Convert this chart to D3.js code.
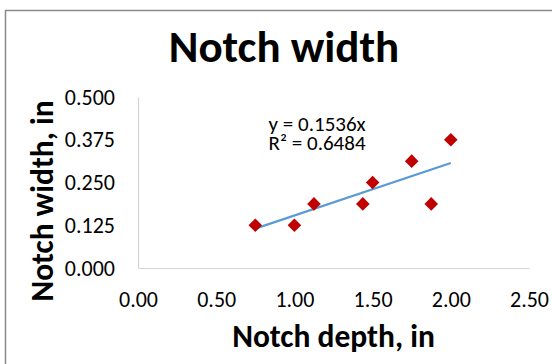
<!DOCTYPE html>
<html>
<head>
<meta charset="utf-8">
<script src="https://cdn.jsdelivr.net/npm/d3@7"></script>
<style>
  body { margin: 0; background: #fff; }
  text { font-family: Calibri, Carlito, Lato, sans-serif; fill: #000; }
</style>
</head>
<body>
<div id="chart"></div>
<script>
// Data
const notchDepth = [0.75, 1.0, 1.125, 1.4375, 1.5, 1.75, 1.875, 2.0];
const notchWidth = [0.125, 0.125, 0.1875, 0.1875, 0.25, 0.3125, 0.1875, 0.375];
const xTicks = [0, 0.5, 1.0, 1.5, 2.0, 2.5];
const yTicks = [0, 0.125, 0.25, 0.375, 0.5];
const trendSlope = 0.1536;
const trendR2 = 0.6484;

// Set up the dimensions of the chart
const W = 552, H = 364;
const margin = { top: 97, right: 23, bottom: 96, left: 138 };
const width = W - margin.left - margin.right;
const height = H - margin.top - margin.bottom;

const root = d3.select("#chart")
    .append("svg")
    .attr("width", W)
    .attr("height", H);

// chart area border (only top and left edges fall inside the picture)
root.append("rect")
    .attr("x", 5.5)
    .attr("y", 10.5)
    .attr("width", 600)
    .attr("height", 400)
    .attr("fill", "none")
    .attr("stroke", "#8a8a8a")
    .attr("stroke-width", 1.5);

const svg = root.append("g")
    .attr("transform", "translate(" + margin.left + "," + margin.top + ")");

// Scales
const x = d3.scaleLinear()
    .domain([0, 2.5])
    .range([0, width]);

const y = d3.scaleLinear()
    .domain([0, 0.5])
    .range([height, 0]);

// Axes
const xAxis = d3.axisBottom(x)
    .tickValues(xTicks)
    .tickFormat(d3.format(".2f"))
    .tickSize(0)
    .tickPadding(23);

const yAxis = d3.axisLeft(y)
    .tickValues(yTicks)
    .tickFormat(d3.format(".3f"))
    .tickSize(0)
    .tickPadding(23);

const gx = svg.append("g")
    .attr("transform", "translate(0," + height + ")")
    .call(xAxis);

const gy = svg.append("g")
    .call(yAxis);

[gx, gy].forEach(g => {
    g.select(".domain").attr("stroke", "#d4d4d4").attr("stroke-width", 1.2);
    g.selectAll("text")
        .style("font-size", "22px")
        .style("font-family", "Calibri, Carlito, Lato, sans-serif")
        .attr("fill", "#000");
});

// Trendline (linear, through origin)
const xr = d3.extent(notchDepth);
svg.append("line")
    .attr("x1", x(xr[0]))
    .attr("y1", y(trendSlope * xr[0]))
    .attr("x2", x(xr[1]))
    .attr("y2", y(trendSlope * xr[1]))
    .attr("stroke", "#5b9bd5")
    .attr("stroke-width", 2.2);

// Points
const pts = notchDepth.map((d, i) => ({ x: d, y: notchWidth[i] }));
svg.selectAll(".pt")
    .data(pts)
    .enter()
    .append("path")
    .attr("class", "pt")
    .attr("d", d3.symbol(d3.symbolSquare, 92))
    .attr("transform", d => "translate(" + x(d.x) + "," + y(d.y) + ") rotate(45)")
    .attr("fill", "#c00000");

// Equation label
const eq = svg.append("text")
    .attr("x", x(0.835))
    .attr("y", y(0.402))
    .style("font-size", "21px");
eq.append("tspan").text("y = " + trendSlope + "x");
eq.append("tspan")
    .attr("x", x(0.835))
    .attr("dy", 19)
    .text("R² = " + trendR2);

// Titles
root.append("text")
    .attr("x", 284)
    .attr("y", 62)
    .attr("text-anchor", "middle")
    .style("font-size", "45px")
    .style("font-weight", "bold")
    .text("Notch width");

root.append("text")
    .attr("x", margin.left + width / 2)
    .attr("y", 347)
    .attr("text-anchor", "middle")
    .style("font-size", "31.5px")
    .style("font-weight", "bold")
    .text("Notch depth, in");

root.append("text")
    .attr("transform", "translate(53,201) rotate(-90)")
    .attr("text-anchor", "middle")
    .style("font-size", "31.5px")
    .style("font-weight", "bold")
    .text("Notch width, in");
</script>
</body>
</html>
